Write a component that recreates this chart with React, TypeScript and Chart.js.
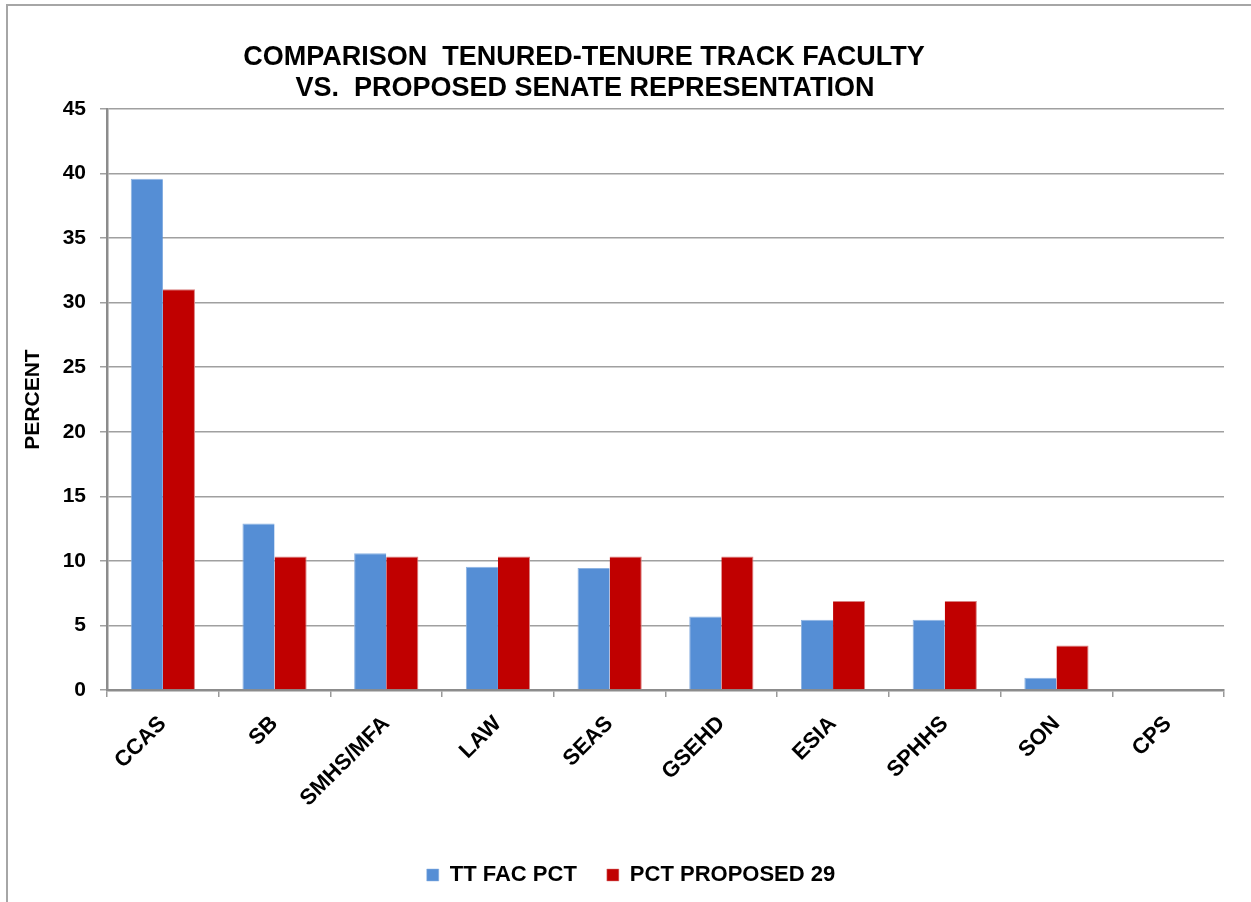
import React, { useEffect, useRef } from "react";
import { Chart, registerables } from "chart.js";

Chart.register(...registerables);

const categories = ["CCAS", "SB", "SMHS/MFA", "LAW", "SEAS", "GSEHD", "ESIA", "SPHHS", "SON", "CPS"];
const ttFacPct = [39.6, 12.9, 10.6, 9.55, 9.45, 5.7, 5.45, 5.45, 0.95, 0];
const pctProposed29 = [31.03, 10.34, 10.34, 10.34, 10.34, 10.34, 6.9, 6.9, 3.45, 0];
const seriesNames = ["TT FAC PCT", "PCT PROPOSED 29"];
const titleLines = ["COMPARISON  TENURED-TENURE TRACK FACULTY", "VS.  PROPOSED SENATE REPRESENTATION"];
const yTitle = "PERCENT";

const FONT = "'Liberation Sans', Arial, sans-serif";

const titlePlugin = {
  id: "customTitle",
  afterDraw(chart: any) {
    const ctx = chart.ctx;
    ctx.save();
    ctx.fillStyle = "#000";
    ctx.font = `bold 27px ${FONT}`;
    ctx.textAlign = "center";
    ctx.textBaseline = "alphabetic";
    ctx.fillText(titleLines[0], 584, 65);
    ctx.fillText(titleLines[1], 585, 96);
    // y axis title
    ctx.font = `bold 21px ${FONT}`;
    ctx.textBaseline = "middle";
    ctx.translate(33, (chart.chartArea.top + chart.chartArea.bottom) / 2);
    ctx.rotate(-Math.PI / 2);
    ctx.fillText(yTitle, 0, 0);
    ctx.restore();
  },
};

export default function App() {
  const ref = useRef<HTMLCanvasElement | null>(null);

  useEffect(() => {
    if (!ref.current) return;
    const chart = new Chart(ref.current, {
      type: "bar",
      data: {
        labels: categories,
        datasets: [
          {
            label: seriesNames[0],
            data: ttFacPct,
            backgroundColor: "#558ED5",
            borderColor: "#8DB3E2",
            borderWidth: { top: 1, left: 1, right: 0, bottom: 0 },
            categoryPercentage: 0.575,
            barPercentage: 1,
          },
          {
            label: seriesNames[1],
            data: pctProposed29,
            backgroundColor: "#C00000",
            borderColor: "#D98080",
            borderWidth: { top: 1, left: 0, right: 1, bottom: 0 },
            categoryPercentage: 0.575,
            barPercentage: 1,
          },
        ],
      },
      options: {
        animation: false,
        responsive: false,
        maintainAspectRatio: false,
        layout: { padding: { top: 109, left: 38, right: 27, bottom: 6 } },
        plugins: {
          title: { display: false },
          tooltip: { enabled: false },
          legend: {
            display: true,
            position: "bottom",
            labels: {
              boxWidth: 12,
              boxHeight: 12,
              padding: 30,
              color: "#000",
              font: { family: FONT, size: 22, weight: "bold" },
            },
          },
        },
        scales: {
          x: {
            offset: true,
            grid: {
              offset: true,
              drawOnChartArea: false,
              drawTicks: true,
              tickLength: 7,
              color: "#999",
              lineWidth: 1.5,
            },
            border: { display: true, color: "#8c8c8c", width: 2.5 },
            ticks: {
              color: "#000",
              font: { family: FONT, size: 22, weight: "bold" },
              maxRotation: 45,
              minRotation: 45,
              padding: 14,
              autoSkip: false,
            },
            afterFit(scale: any) {
              scale.height = 144;
            },
          },
          y: {
            min: 0,
            max: 45,
            ticks: {
              stepSize: 5,
              color: "#000",
              font: { family: FONT, size: 21, weight: "bold" },
              padding: 14,
            },
            grid: {
              color: "#a0a0a0",
              lineWidth: 1.5,
              tickLength: 7,
            },
            border: { display: true, color: "#8c8c8c", width: 2.5 },
            title: { display: false },
            afterFit(scale: any) {
              scale.width = 69;
            },
          },
        },
      },
      plugins: [titlePlugin],
    });
    return () => chart.destroy();
  }, []);

  return (
    <div style={{ position: "fixed", left: 0, top: 0, width: 1251, height: 902, overflow: "hidden", background: "#fff" }}>
      <div
        style={{
          position: "absolute",
          left: 6,
          top: 4,
          width: 1400,
          height: 1100,
          borderLeft: "2px solid #a6a6a6",
          borderTop: "2px solid #a6a6a6",
        }}
      />
      <canvas ref={ref} width={1251} height={902} style={{ position: "absolute", left: 0, top: 0 }} />
    </div>
  );
}
